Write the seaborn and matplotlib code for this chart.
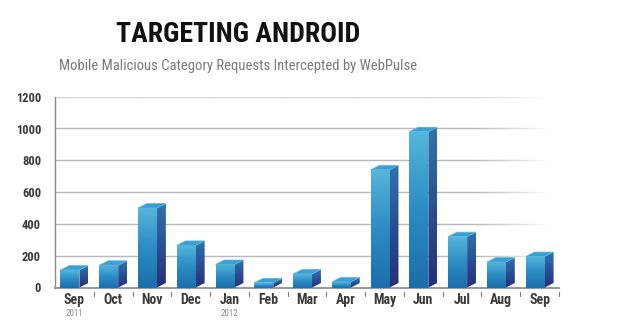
import numpy as np
import pandas as pd
import matplotlib
matplotlib.use("Agg")
import matplotlib.pyplot as plt
import seaborn as sns
from matplotlib.patches import Polygon
from matplotlib.colors import LinearSegmentedColormap

months = ["Sep", "Oct", "Nov", "Dec", "Jan", "Feb", "Mar", "Apr", "May", "Jun", "Jul", "Aug", "Sep"]
years = ["2011", "", "", "", "2012", "", "", "", "", "", "", "", ""]
requests = [110, 140, 500, 265, 145, 30, 85, 35, 740, 980, 320, 160, 195]
y_ticks = [0, 200, 400, 600, 800, 1000, 1200]

title = "TARGETING ANDROID"
subtitle = "Mobile Malicious Category Requests Intercepted by WebPulse"

sns.set_theme(style="white")
FONT = ["Roboto Condensed", "Noto Sans Condensed", "DejaVu Sans"]
plt.rcParams["font.family"] = FONT
plt.rcParams["font.stretch"] = "condensed"

df = pd.DataFrame({"pos": [str(i) for i in range(len(months))], "val": requests})

fig = plt.figure(figsize=(6.18, 3.31), dpi=100)
ax = fig.add_axes([55 / 618, 1 - 287.5 / 331, (559 - 55) / 618, (287.5 - 96.7) / 331])

bw = 0.49
dx = 0.23
dy = 28
sns.barplot(data=df, x="pos", y="val", color="#2f8fc8", width=bw, ax=ax, zorder=3)

ax.set_xlim(-0.5, len(months) - 0.5)
ax.set_ylim(0, 1200)

front_cmap = LinearSegmentedColormap.from_list("f", ["#1c6eab", "#2b8cc4", "#55b5da"])
side_cmap = LinearSegmentedColormap.from_list("s", ["#262f78", "#2a4f92", "#2f73ad"])
grad = np.linspace(0, 1, 128).reshape(-1, 1)

for p in list(ax.patches):
    x0 = p.get_x() - dx / 2
    p.set_x(x0)
    w = p.get_width()
    h = p.get_height()
    p.set_facecolor("none")
    p.set_edgecolor("none")
    im = ax.imshow(grad, cmap=front_cmap, origin="lower", aspect="auto",
                   extent=[x0, x0 + w, 0, h], zorder=3, interpolation="bilinear")
    im.set_clip_path(p)
    side = Polygon([(x0 + w, 0), (x0 + w + dx, dy), (x0 + w + dx, h + dy), (x0 + w, h)],
                   closed=True, facecolor="none", edgecolor="none", zorder=3)
    ax.add_patch(side)
    ims = ax.imshow(grad, cmap=side_cmap, origin="lower", aspect="auto",
                    extent=[x0 + w, x0 + w + dx, 0, h + dy], zorder=3, interpolation="bilinear")
    ims.set_clip_path(side)
    top = Polygon([(x0, h), (x0 + w, h), (x0 + w + dx, h + dy), (x0 + dx, h + dy)],
                  closed=True, facecolor="#3a9fd2", edgecolor="#5bb8df", linewidth=0.5, zorder=4)
    ax.add_patch(top)

ax.set_xlim(-0.5, len(months) - 0.5)
ax.set_ylim(0, 1200)

xs = np.linspace(-0.5, len(months) - 0.5, 120)
for yv in y_ticks[1:]:
    base = 0.55 if yv < 1200 else 0.3
    for i in range(len(xs) - 1):
        xm = (xs[i] + xs[i + 1]) / 2
        fade = 1.0 if xm < 10.3 else max(0.0, 1 - (xm - 10.3) / 2.0)
        if fade <= 0:
            continue
        ax.plot([xs[i], xs[i + 1]], [yv, yv], color="#7a7a7a", alpha=base * fade,
                linewidth=1.0, solid_capstyle="butt", zorder=1)

for s in ["top", "right"]:
    ax.spines[s].set_visible(False)
ax.spines["left"].set_color("#8a8a8a")
ax.spines["left"].set_linewidth(1.0)
ax.spines["bottom"].set_color("#9a9a9a")
ax.spines["bottom"].set_linewidth(1.5)

ax.set_yticks(y_ticks)
ax.set_yticklabels([str(v) for v in y_ticks], fontsize=9, fontweight="bold", color="#3a3a3a")
ax.tick_params(axis="y", length=0, pad=10)

ax.set_xticks(range(len(months)))
ax.set_xticklabels(months, fontsize=10, fontweight="bold", color="#3a3a3a")
ax.tick_params(axis="x", length=0, pad=4)
ax.set_xlabel("")
ax.set_ylabel("")

for b in range(1, len(months) + 1):
    ax.plot([b - 0.5, b - 0.5], [-30, -55], color="#777777", linewidth=0.8, clip_on=False)

for i, yr in enumerate(years):
    if yr:
        ax.text(i, -165, yr, ha="center", va="center", fontsize=6.5, color="#8a8a8a")

fig.text(238 / 618, 1 - 35 / 331, title, ha="center", va="center", fontsize=20,
         fontweight="bold", color="#111111")
fig.text(238 / 618, 1 - 66 / 331, subtitle, ha="center", va="center", fontsize=10.5,
         color="#7a7a7a")

fig.savefig("out.png", dpi=100, facecolor="white")
